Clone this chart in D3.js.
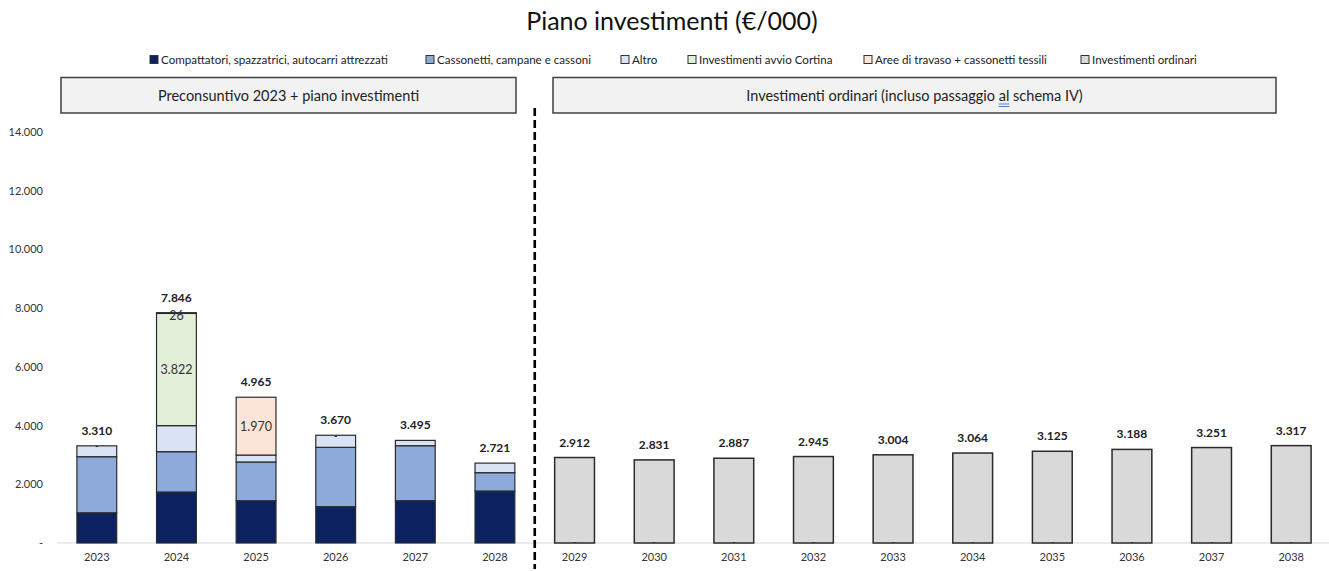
<!DOCTYPE html>
<html>
<head>
<meta charset="utf-8">
<script src="https://cdn.jsdelivr.net/npm/d3@7"></script>
<style>
  html, body { margin: 0; padding: 0; background: #ffffff; }
  svg { display: block; font-family: Lato, "Open Sans", sans-serif; }
</style>
</head>
<body>
<svg id="chart" width="1329" height="571"></svg>
<script>
// ---------- DATA ----------
const years = ["2023","2024","2025","2026","2027","2028","2029","2030","2031","2032","2033","2034","2035","2036","2037","2038"];
const seriesNames = [
  "Compattatori, spazzatrici, autocarri attrezzati",
  "Cassonetti, campane e cassoni",
  "Altro",
  "Investimenti avvio Cortina",
  "Aree di travaso + cassonetti tessili",
  "Investimenti ordinari"
];
const compattatori = [1030, 1737, 1440, 1237, 1441, 1771, 0,0,0,0,0,0,0,0,0,0];
const cassonetti   = [1910, 1373, 1320, 2022, 1873,  624, 0,0,0,0,0,0,0,0,0,0];
const altro        = [ 370,  888,  235,  411,  181,  326, 0,0,0,0,0,0,0,0,0,0];
const cortina      = [   0, 3822,    0,    0,    0,    0, 0,0,0,0,0,0,0,0,0,0];
const aree         = [   0,   26, 1970,    0,    0,    0, 0,0,0,0,0,0,0,0,0,0];
const ordinari     = [   0,    0,    0,    0,    0,    0, 2912,2831,2887,2945,3004,3064,3125,3188,3251,3317];
const totals       = [3310, 7846, 4965, 3670, 3495, 2721, 2912,2831,2887,2945,3004,3064,3125,3188,3251,3317];
const yTicks = [0, 2000, 4000, 6000, 8000, 10000, 12000, 14000];
const titleText = "Piano investimenti (€/000)";
const headerLeft = "Preconsuntivo 2023 + piano investimenti";
const headerRight = "Investimenti ordinari (incluso passaggio al schema IV)";
// segments that carry an inner data label (series index, year)
const innerLabels = [[3, "2024"], [4, "2025"], [4, "2024"]];
// zero-value "-" labels shown by the original chart
const dashTop = ["2023", "2026"];

// ---------- STYLE ----------
const colors = ["#0b2160", "#8eaadb", "#dae3f3", "#e2f0d9", "#fbe5d6", "#d9d9d9"];
const fmt = v => v === 0 ? "-" : d3.format(",")(v).replace(/,/g, ".");

const svg = d3.select("#chart");
const x = d3.scaleBand().domain(years).range([57, 1331]).paddingInner(0.5).paddingOuter(0.25);
const y = d3.scaleLinear().domain([0, 14000]).range([543, 132]);

// title
svg.append("text").attr("x", 672).attr("y", 30).attr("text-anchor", "middle")
  .attr("font-size", 25).attr("fill", "#111").text(titleText);

// legend
const legendX = [150, 426, 621, 688, 864, 1081];
const lg = svg.append("g");
seriesNames.forEach((n, i) => {
  const g = lg.append("g").attr("transform", `translate(${legendX[i]},60)`);
  g.append("rect").attr("x", 0).attr("y", -4.5).attr("width", 8).attr("height", 8)
    .attr("fill", colors[i]).attr("stroke", "#333").attr("stroke-width", 1);
  g.append("text").attr("x", 11).attr("y", 4).attr("font-size", 11.6).attr("fill", "#222").text(n);
});

// header boxes
function header(x0, x1, txt) {
  svg.append("rect").attr("x", x0).attr("y", 77.5).attr("width", x1 - x0).attr("height", 35.5)
    .attr("fill", "#f2f2f2").attr("stroke", "#404040").attr("stroke-width", 1.5);
  return svg.append("text").attr("x", (x0 + x1) / 2).attr("y", 100.5).attr("text-anchor", "middle")
    .attr("font-size", 14.5).attr("fill", "#222").text(txt);
}
header(61, 516, headerLeft);
const hr = header(553, 1276, headerRight);
// spell-check style underline under "al"
(function(){
  const node = hr.node();
  const idx = headerRight.indexOf(" al ") + 1;
  const s = node.getStartPositionOfChar(idx), e = node.getEndPositionOfChar(idx + 1);
  svg.append("line").attr("x1", s.x).attr("x2", e.x).attr("y1", 104).attr("y2", 104).attr("stroke", "#4a6fc4").attr("stroke-width", 0.9);
  svg.append("line").attr("x1", s.x).attr("x2", e.x).attr("y1", 106.5).attr("y2", 106.5).attr("stroke", "#4a6fc4").attr("stroke-width", 0.9);
})();

// y axis labels
const yAxis = d3.axisLeft(y).tickValues(yTicks).tickSize(0).tickPadding(0).tickFormat(fmt);
svg.append("g").attr("transform", "translate(43,0)").call(yAxis)
  .call(g => g.select(".domain").remove())
  .call(g => g.selectAll("text").attr("font-size", 11).attr("fill", "#333").attr("font-family", "Lato, sans-serif"));

// x axis line & labels
const xAxis = d3.axisBottom(x).tickSize(0).tickPadding(10);
svg.append("g").attr("transform", `translate(0,${y(0)})`).call(xAxis)
  .call(g => g.select(".domain").attr("stroke", "#d9d9d9").attr("stroke-width", 1.2).attr("d", `M${x.range()[0]},0H1329`))
  .call(g => g.selectAll("text").attr("font-size", 11).attr("fill", "#333").attr("font-family", "Lato, sans-serif"));

// stacked bars
const table = years.map((yr, i) => ({
  year: yr, s0: compattatori[i], s1: cassonetti[i], s2: altro[i], s3: cortina[i], s4: aree[i], s5: ordinari[i]
}));
const keys = ["s0","s1","s2","s3","s4","s5"];
const stack = d3.stack().keys(keys)(table);
stack.forEach((layer, li) => {
  svg.append("g").selectAll("rect").data(layer.filter(d => d[1] - d[0] > 0)).join("rect")
    .attr("x", d => x(d.data.year)).attr("width", x.bandwidth())
    .attr("y", d => y(d[1])).attr("height", d => y(d[0]) - y(d[1]))
    .attr("fill", colors[li]).attr("stroke", "#2b2b2b").attr("stroke-width", li === 5 ? 1.5 : 1.2);
});

// inner labels
innerLabels.forEach(([si, yr]) => {
  const layer = stack[si];
  const d = layer[years.indexOf(yr)];
  const v = d[1] - d[0];
  const cy = v < 200 ? y(d[1]) + 7 : (y(d[0]) + y(d[1])) / 2 + 4.5;
  svg.append("text").attr("x", x(yr) + x.bandwidth() / 2).attr("y", cy).attr("text-anchor", "middle")
    .attr("font-size", 12.5).attr("fill", "#333").text(fmt(v));
});

// "-" zero labels
dashTop.forEach(yr => {
  const i = years.indexOf(yr);
  svg.append("text").attr("x", x(yr) + x.bandwidth() / 2).attr("y", y(totals[i]) + 3.5).attr("text-anchor", "middle")
    .attr("font-size", 9).attr("font-weight", "bold").attr("fill", "#222").text("-");
});
years.forEach((yr, i) => {
  if (ordinari[i] > 0) {
    svg.append("text").attr("x", x(yr) + x.bandwidth() / 2).attr("y", y(0) + 1.5).attr("text-anchor", "middle")
      .attr("font-size", 9).attr("font-weight", "bold").attr("fill", "#333").text("-");
  }
});

// total labels
svg.append("g").selectAll("text").data(years).join("text")
  .attr("x", d => x(d) + x.bandwidth() / 2)
  .attr("y", (d, i) => y(totals[i]) - 11)
  .attr("text-anchor", "middle").attr("font-size", 12).attr("font-weight", "bold").attr("fill", "#222")
  .text((d, i) => fmt(totals[i]));

// dashed separator
const sepX = (x("2028") + x("2029") + x.bandwidth()) / 2;
svg.append("line").attr("x1", sepX).attr("x2", sepX).attr("y1", 108).attr("y2", 569)
  .attr("stroke", "#000").attr("stroke-width", 2.6).attr("stroke-dasharray", "8,4");
</script>
</body>
</html>
